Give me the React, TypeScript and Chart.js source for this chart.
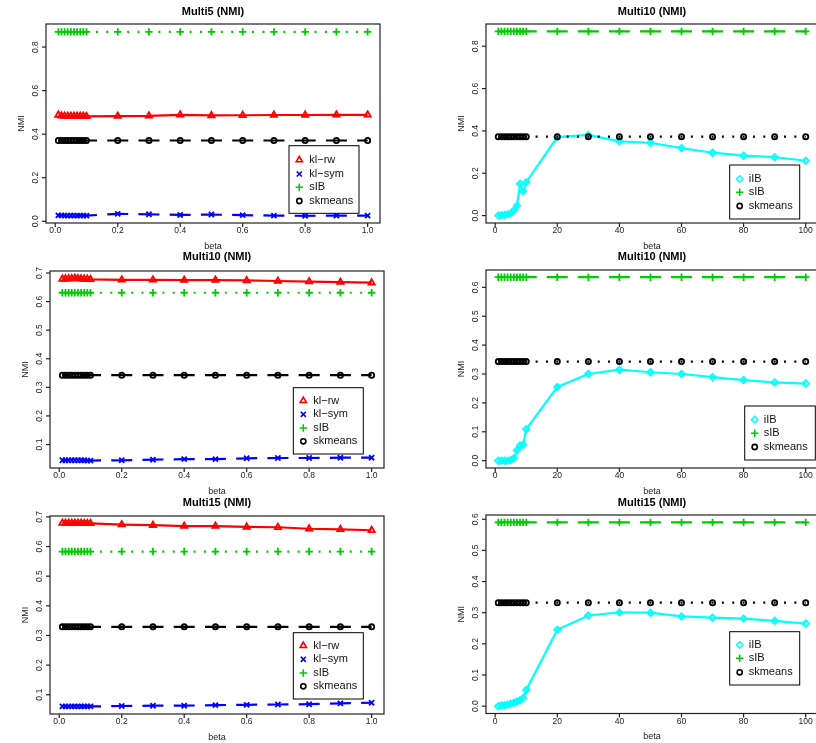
import React, { useEffect, useRef } from 'react';
import { Chart, registerables } from 'chart.js';
import { drawPoint } from 'chart.js/helpers';

Chart.register(...registerables);

// ---------------- data ----------------
const betaSmall = [0.01, 0.02, 0.03, 0.04, 0.05, 0.06, 0.07, 0.08, 0.09, 0.1, 0.2, 0.3, 0.4, 0.5, 0.6, 0.7, 0.8, 0.9, 1.0];
const betaLarge = [1, 2, 3, 4, 5, 6, 7, 8, 9, 10, 20, 30, 40, 50, 60, 70, 80, 90, 100];

const xTicksSmall = [0, 0.2, 0.4, 0.6, 0.8, 1.0];
const xTickLabelsSmall = ['0.0', '0.2', '0.4', '0.6', '0.8', '1.0'];
const xTicksLarge = [0, 20, 40, 60, 80, 100];
const xTickLabelsLarge = ['0', '20', '40', '60', '80', '100'];

const yTicksA = [0, 0.2, 0.4, 0.6, 0.8];
const yTickLabelsA = ['0.0', '0.2', '0.4', '0.6', '0.8'];
const yTicksB = [0.1, 0.2, 0.3, 0.4, 0.5, 0.6, 0.7];
const yTickLabelsB = ['0.1', '0.2', '0.3', '0.4', '0.5', '0.6', '0.7'];
const yTicksC = [0, 0.1, 0.2, 0.3, 0.4, 0.5, 0.6];
const yTickLabelsC = ['0.0', '0.1', '0.2', '0.3', '0.4', '0.5', '0.6'];

// Multi5 (left, top)
const m5KlRw = [0.488, 0.484, 0.483, 0.483, 0.483, 0.483, 0.483, 0.483, 0.483, 0.482, 0.483, 0.484, 0.489, 0.486, 0.487, 0.488, 0.488, 0.489, 0.489];
const m5KlSym = [0.027, 0.027, 0.026, 0.026, 0.026, 0.026, 0.026, 0.026, 0.026, 0.026, 0.034, 0.032, 0.029, 0.031, 0.028, 0.026, 0.025, 0.026, 0.026];
const m5SIB = [0.870, 0.870, 0.870, 0.870, 0.870, 0.870, 0.870, 0.870, 0.870, 0.870, 0.870, 0.870, 0.870, 0.870, 0.870, 0.870, 0.870, 0.870, 0.870];
const m5Skm = [0.371, 0.371, 0.371, 0.371, 0.371, 0.371, 0.371, 0.371, 0.371, 0.371, 0.371, 0.371, 0.371, 0.371, 0.371, 0.371, 0.371, 0.371, 0.371];

// Multi10 (right, top)
const r1IIB = [0.000, 0.002, 0.003, 0.006, 0.011, 0.024, 0.047, 0.150, 0.115, 0.158, 0.371, 0.381, 0.351, 0.344, 0.319, 0.297, 0.283, 0.276, 0.259];
const r1SIB = [0.870, 0.870, 0.870, 0.870, 0.870, 0.870, 0.870, 0.870, 0.870, 0.870, 0.870, 0.870, 0.870, 0.870, 0.870, 0.870, 0.870, 0.870, 0.870];
const r1Skm = [0.373, 0.373, 0.373, 0.373, 0.373, 0.373, 0.373, 0.373, 0.373, 0.373, 0.373, 0.373, 0.373, 0.373, 0.373, 0.373, 0.373, 0.373, 0.373];

// Multi10 (left, middle)
const m10KlRw = [0.679, 0.680, 0.680, 0.681, 0.682, 0.681, 0.680, 0.679, 0.679, 0.678, 0.676, 0.676, 0.675, 0.675, 0.674, 0.672, 0.670, 0.668, 0.666];
const m10KlSym = [0.045, 0.045, 0.045, 0.045, 0.045, 0.045, 0.045, 0.045, 0.044, 0.044, 0.045, 0.047, 0.049, 0.049, 0.052, 0.053, 0.053, 0.054, 0.054];
const m10SIB = [0.631, 0.631, 0.631, 0.631, 0.631, 0.631, 0.631, 0.631, 0.631, 0.631, 0.631, 0.631, 0.631, 0.631, 0.631, 0.631, 0.631, 0.631, 0.631];
const m10Skm = [0.3425, 0.3425, 0.3425, 0.3425, 0.3425, 0.3425, 0.3425, 0.3425, 0.3425, 0.3425, 0.3425, 0.3425, 0.3425, 0.3425, 0.3425, 0.3425, 0.3425, 0.3425, 0.3425];

// Multi10 (right, middle)
const r2IIB = [0.000, 0.000, 0.000, 0.000, 0.002, 0.008, 0.036, 0.053, 0.055, 0.109, 0.255, 0.300, 0.315, 0.306, 0.300, 0.289, 0.279, 0.271, 0.267];
const r2SIB = [0.635, 0.635, 0.635, 0.635, 0.635, 0.635, 0.635, 0.635, 0.635, 0.635, 0.635, 0.635, 0.635, 0.635, 0.635, 0.635, 0.635, 0.635, 0.635];
const r2Skm = [0.343, 0.343, 0.343, 0.343, 0.343, 0.343, 0.343, 0.343, 0.343, 0.343, 0.343, 0.343, 0.343, 0.343, 0.343, 0.343, 0.343, 0.343, 0.343];

// Multi15 (left, bottom)
const m15KlRw = [0.679, 0.679, 0.679, 0.679, 0.679, 0.679, 0.679, 0.678, 0.678, 0.678, 0.674, 0.672, 0.669, 0.669, 0.666, 0.665, 0.660, 0.658, 0.655];
const m15KlSym = [0.0605, 0.0605, 0.0605, 0.0605, 0.0605, 0.0605, 0.0605, 0.0605, 0.0605, 0.0605, 0.062, 0.063, 0.063, 0.065, 0.066, 0.067, 0.068, 0.071, 0.073];
const m15SIB = [0.583, 0.583, 0.583, 0.583, 0.583, 0.583, 0.583, 0.583, 0.583, 0.583, 0.583, 0.583, 0.583, 0.583, 0.583, 0.583, 0.583, 0.583, 0.583];
const m15Skm = [0.329, 0.329, 0.329, 0.329, 0.329, 0.329, 0.329, 0.329, 0.329, 0.329, 0.329, 0.329, 0.329, 0.329, 0.329, 0.329, 0.329, 0.329, 0.329];

// Multi15 (right, bottom)
const r3IIB = [0.000, 0.002, 0.003, 0.005, 0.0075, 0.011, 0.015, 0.019, 0.026, 0.052, 0.245, 0.291, 0.301, 0.300, 0.288, 0.284, 0.281, 0.274, 0.265];
const r3SIB = [0.590, 0.590, 0.590, 0.590, 0.590, 0.590, 0.590, 0.590, 0.590, 0.590, 0.590, 0.590, 0.590, 0.590, 0.590, 0.590, 0.590, 0.590, 0.590];
const r3Skm = [0.332, 0.332, 0.332, 0.332, 0.332, 0.332, 0.332, 0.332, 0.332, 0.332, 0.332, 0.332, 0.332, 0.332, 0.332, 0.332, 0.332, 0.332, 0.332];

// ---------------- styles ----------------
const W = 830;
const H = 743;
const FONT = '"Liberation Sans", Arial, Helvetica, sans-serif';

const STY = {
  klrw: { label: 'kl\u2212rw', color: '#FF0000', dash: [], off: 0, style: 'triangle', r: 3.6 },
  klsym: { label: 'kl\u2212sym', color: '#0000FF', dash: [21, 10.24], off: 13.6, style: 'crossRot', r: 3.6 },
  sibL: { label: 'sIB', color: '#00CD00', dash: [2, 8.41], off: 4.1, style: 'cross', r: 3.7 },
  skmL: { label: 'skmeans', color: '#000000', dash: [21, 10.24], off: 13.6, style: 'circle', r: 2.6 },
  iib: { label: 'iIB', color: '#00FFFF', dash: [], off: 0, style: 'rectRot', r: 3.2 },
  sibR: { label: 'sIB', color: '#00CD00', dash: [21, 10.05], off: 13.6, style: 'cross', r: 3.7 },
  skmR: { label: 'skmeans', color: '#000000', dash: [2, 8.35], off: 4.1, style: 'circle', r: 2.6 },
};

const leftX = { min: -0.0296, max: 1.0396, ticks: xTicksSmall, labels: xTickLabelsSmall, beta: betaSmall };
const rightX = { min: -2.96, max: 103.96, ticks: xTicksLarge, labels: xTickLabelsLarge, beta: betaLarge };

const panels = [
  {
    key: 'tl', title: 'Multi5 (NMI)', titleY: 12, box: { l: 46, t: 24, r: 380, b: 223 }, xs: leftX,
    y: { min: -0.008, max: 0.906, ticks: yTicksA, labels: yTickLabelsA },
    series: [
      { sty: STY.klrw, values: m5KlRw }, { sty: STY.klsym, values: m5KlSym },
      { sty: STY.sibL, values: m5SIB }, { sty: STY.skmL, values: m5Skm },
    ],
    legend: { x: 289, y: 145.7, w: 70, h: 67.6, sx: 299.3, tx: 309.3, rows: [160, 174, 187.3, 201] },
  },
  {
    key: 'tr', title: 'Multi10 (NMI)', titleY: 12, box: { l: 486, t: 24, r: 818, b: 223 }, xs: rightX,
    y: { min: -0.035, max: 0.905, ticks: yTicksA, labels: yTickLabelsA },
    series: [
      { sty: STY.iib, values: r1IIB }, { sty: STY.sibR, values: r1SIB }, { sty: STY.skmR, values: r1Skm },
    ],
    legend: { x: 729.7, y: 165, w: 70, h: 54, sx: 739.7, tx: 748.7, rows: [179, 192.3, 206] },
  },
  {
    key: 'ml', title: 'Multi10 (NMI)', titleY: 257, box: { l: 50, t: 271, r: 384, b: 468 }, xs: leftX,
    y: { min: 0.018, max: 0.707, ticks: yTicksB, labels: yTickLabelsB },
    series: [
      { sty: STY.klrw, values: m10KlRw }, { sty: STY.klsym, values: m10KlSym },
      { sty: STY.sibL, values: m10SIB }, { sty: STY.skmL, values: m10Skm },
    ],
    legend: { x: 293.3, y: 387.7, w: 70, h: 66.3, sx: 303.3, tx: 313.3, rows: [400.7, 414.3, 428, 441.3] },
  },
  {
    key: 'mr', title: 'Multi10 (NMI)', titleY: 257, box: { l: 486, t: 270, r: 818, b: 468 }, xs: rightX,
    y: { min: -0.0254, max: 0.660, ticks: yTicksC, labels: yTickLabelsC },
    series: [
      { sty: STY.iib, values: r2IIB }, { sty: STY.sibR, values: r2SIB }, { sty: STY.skmR, values: r2Skm },
    ],
    legend: { x: 744.7, y: 406, w: 70.6, h: 54, sx: 754.7, tx: 763.7, rows: [419.7, 433.3, 447] },
  },
  {
    key: 'bl', title: 'Multi15 (NMI)', titleY: 502.5, box: { l: 50, t: 516, r: 384, b: 714 }, xs: leftX,
    y: { min: 0.035, max: 0.703, ticks: yTicksB, labels: yTickLabelsB },
    series: [
      { sty: STY.klrw, values: m15KlRw }, { sty: STY.klsym, values: m15KlSym },
      { sty: STY.sibL, values: m15SIB }, { sty: STY.skmL, values: m15Skm },
    ],
    legend: { x: 293.3, y: 632.7, w: 70, h: 66.3, sx: 303.3, tx: 313.3, rows: [645.7, 659.3, 673, 686.3] },
  },
  {
    key: 'br', title: 'Multi15 (NMI)', titleY: 502.5, box: { l: 486, t: 515, r: 818, b: 713.5 }, xs: rightX,
    y: { min: -0.0236, max: 0.6136, ticks: yTicksC, labels: yTickLabelsC },
    series: [
      { sty: STY.iib, values: r3IIB }, { sty: STY.sibR, values: r3SIB }, { sty: STY.skmR, values: r3Skm },
    ],
    legend: { x: 729.7, y: 631.7, w: 70, h: 53.3, sx: 739.7, tx: 748.7, rows: [645, 658.3, 672.3] },
  },
];

function makeFramePlugin(p: any) {
  return {
    id: 'rframe_' + p.key,
    afterDraw(chart: any) {
      const ctx = chart.ctx as CanvasRenderingContext2D;
      const { left, right, top, bottom } = chart.chartArea;
      const xs = chart.scales.x;
      const ys = chart.scales.y;
      ctx.save();
      // frame
      ctx.strokeStyle = '#222';
      ctx.lineWidth = 1.2;
      ctx.setLineDash([]);
      ctx.strokeRect(left, top, right - left, bottom - top);

      // x ticks
      ctx.fillStyle = '#222';
      ctx.font = `8.5px ${FONT}`;
      ctx.textAlign = 'center';
      ctx.textBaseline = 'middle';
      p.xs.ticks.forEach((v: number, i: number) => {
        const px = xs.getPixelForValue(v);
        ctx.beginPath();
        ctx.moveTo(px, bottom);
        ctx.lineTo(px, bottom + 4);
        ctx.stroke();
        ctx.fillText(p.xs.labels[i], px, bottom + 8);
      });
      // y ticks
      p.y.ticks.forEach((v: number, i: number) => {
        const py = ys.getPixelForValue(v);
        ctx.beginPath();
        ctx.moveTo(left - 4, py);
        ctx.lineTo(left, py);
        ctx.stroke();
        ctx.save();
        ctx.translate(left - 10, py);
        ctx.rotate(-Math.PI / 2);
        ctx.fillText(p.y.labels[i], 0, 0);
        ctx.restore();
      });

      // title
      ctx.fillStyle = '#000';
      ctx.font = `bold 11px ${FONT}`;
      ctx.fillText(p.title, (left + right) / 2, p.titleY);

      // axis titles
      ctx.fillStyle = '#222';
      ctx.font = `9px ${FONT}`;
      ctx.fillText('beta', (left + right) / 2, bottom + 23.5);
      ctx.save();
      ctx.translate(left - 24.5, (top + bottom) / 2);
      ctx.rotate(-Math.PI / 2);
      ctx.fillText('NMI', 0, 0);
      ctx.restore();

      // legend
      const lg = p.legend;
      ctx.fillStyle = '#fff';
      ctx.fillRect(lg.x, lg.y, lg.w, lg.h);
      ctx.strokeStyle = '#000';
      ctx.lineWidth = 1;
      ctx.strokeRect(lg.x, lg.y, lg.w, lg.h);
      p.series.forEach((s: any, i: number) => {
        const y = lg.rows[i];
        ctx.save();
        ctx.strokeStyle = s.sty.color;
        ctx.fillStyle = 'rgba(0,0,0,0)';
        ctx.lineWidth = 1.6;
        drawPoint(ctx, { pointStyle: s.sty.style, radius: s.sty.r, rotation: 0, borderWidth: 1.6 } as any, lg.sx, y);
        ctx.restore();
        ctx.fillStyle = '#111';
        ctx.font = `11px ${FONT}`;
        ctx.textAlign = 'left';
        ctx.textBaseline = 'middle';
        ctx.fillText(s.sty.label, lg.tx, y);
      });
      ctx.restore();
    },
  };
}

function Panel({ p }: { p: any }) {
  const ref = useRef<HTMLCanvasElement | null>(null);
  useEffect(() => {
    if (!ref.current) return;
    const n = p.series.length;
    const chart = new Chart(ref.current, {
      type: 'line',
      data: {
        datasets: p.series.map((s: any, idx: number) => ({
          label: s.sty.label,
          data: p.xs.beta.map((b: number, i: number) => ({ x: b, y: s.values[i] })),
          order: n - idx,
          borderColor: s.sty.color,
          borderWidth: 2.2,
          borderDash: s.sty.dash,
          borderDashOffset: s.sty.off,
          pointStyle: s.sty.style,
          pointRadius: s.sty.r,
          pointBorderWidth: 1.8,
          pointBorderColor: s.sty.color,
          pointBackgroundColor: 'rgba(0,0,0,0)',
          fill: false,
          tension: 0,
        })),
      },
      options: {
        responsive: false,
        animation: false,
        events: [],
        layout: { padding: { left: p.box.l, top: p.box.t, right: W - p.box.r, bottom: H - p.box.b } },
        scales: {
          x: { type: 'linear', min: p.xs.min, max: p.xs.max, display: false },
          y: { type: 'linear', min: p.y.min, max: p.y.max, display: false },
        },
        plugins: {
          legend: { display: false },
          tooltip: { enabled: false },
          title: { display: false },
        },
      } as any,
      plugins: [makeFramePlugin(p)],
    });
    return () => chart.destroy();
  }, [p]);
  return (
    <canvas
      ref={ref}
      width={W}
      height={H}
      style={{ position: 'absolute', left: 0, top: 0, width: W, height: H }}
    />
  );
}

export default function App() {
  return (
    <div
      style={{
        position: 'fixed', left: 0, top: 0, width: 816, height: 743,
        overflow: 'hidden', background: '#fff',
      }}
    >
      {panels.map((p) => (
        <Panel key={p.key} p={p} />
      ))}
    </div>
  );
}
